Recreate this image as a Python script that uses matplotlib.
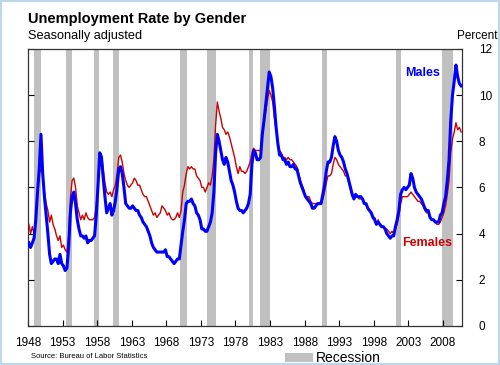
import numpy as np
import matplotlib
matplotlib.use("Agg")
import matplotlib.pyplot as plt
from matplotlib.patches import Rectangle

plt.rcParams['font.family'] = ['Liberation Sans', 'DejaVu Sans']

# Quarterly unemployment rates (percent), starting 1948 Q1
males = [
    3.6, 3.4, 3.6, 3.8,   # 1948
    4.6, 5.8, 6.8, 8.3,   # 1949
    6.6, 5.6, 4.8, 4.0,   # 1950
    3.1, 2.7, 2.8, 2.9,   # 1951
    2.9, 2.7, 3.1, 2.7,   # 1952
    2.6, 2.4, 2.5, 3.4,   # 1953
    4.9, 5.6, 5.8, 5.3,   # 1954
    4.6, 4.2, 3.9, 3.9,   # 1955
    3.8, 3.9, 3.6, 3.7,   # 1956
    3.7, 3.8, 3.9, 4.8,   # 1957
    6.1, 7.5, 7.3, 6.4,   # 1958
    5.6, 4.9, 5.1, 5.3,   # 1959
    4.8, 5.0, 5.4, 6.0,   # 1960
    6.8, 6.9, 6.6, 6.0,   # 1961
    5.3, 5.2, 5.1, 5.1,   # 1962
    5.2, 5.1, 5.0, 5.0,   # 1963
    4.8, 4.7, 4.5, 4.4,   # 1964
    4.3, 4.1, 3.9, 3.6,   # 1965
    3.4, 3.3, 3.2, 3.2,   # 1966
    3.2, 3.2, 3.2, 3.3,   # 1967
    3.0, 3.0, 2.9, 2.8,   # 1968
    2.7, 2.8, 2.9, 2.9,   # 1969
    3.5, 4.1, 4.6, 5.3,   # 1970
    5.4, 5.4, 5.5, 5.3,   # 1971
    5.2, 4.9, 4.8, 4.6,   # 1972
    4.2, 4.2, 4.1, 4.1,   # 1973
    4.3, 4.5, 4.9, 5.8,   # 1974
    7.5, 8.3, 8.0, 7.6,   # 1975
    7.2, 7.0, 7.3, 7.1,   # 1976
    6.7, 6.3, 6.1, 5.8,   # 1977
    5.4, 5.1, 5.0, 5.0,   # 1978
    4.9, 5.0, 5.1, 5.3,   # 1979
    5.7, 7.0, 7.6, 7.5,   # 1980
    7.2, 7.2, 7.3, 8.3,   # 1981
    8.9, 9.6, 10.3, 11.0, # 1982
    10.8, 10.3, 9.5, 8.6, # 1983
    7.9, 7.4, 7.4, 7.2,   # 1984
    7.2, 7.0, 7.1, 6.9,   # 1985
    6.9, 7.0, 6.8, 6.8,   # 1986
    6.5, 6.2, 6.0, 5.8,   # 1987
    5.6, 5.5, 5.4, 5.3,   # 1988
    5.1, 5.1, 5.2, 5.3,   # 1989
    5.3, 5.3, 5.7, 6.1,   # 1990
    6.7, 7.1, 7.1, 7.3,   # 1991
    7.8, 8.2, 8.0, 7.6,   # 1992
    7.4, 7.3, 7.1, 6.8,   # 1993
    6.6, 6.3, 6.0, 5.7,   # 1994
    5.5, 5.7, 5.6, 5.6,   # 1995
    5.6, 5.5, 5.3, 5.3,   # 1996
    5.1, 5.0, 4.9, 4.7,   # 1997
    4.6, 4.4, 4.5, 4.4,   # 1998
    4.3, 4.3, 4.2, 4.0,   # 1999
    3.9, 3.8, 3.9, 3.9,   # 2000
    4.3, 4.6, 5.0, 5.7,   # 2001
    5.9, 6.0, 5.9, 6.0,   # 2002
    6.1, 6.6, 6.4, 6.0,   # 2003
    5.8, 5.7, 5.6, 5.5,   # 2004
    5.3, 5.1, 5.0, 5.0,   # 2005
    4.7, 4.6, 4.6, 4.5,   # 2006
    4.5, 4.5, 4.8, 4.9,   # 2007
    5.3, 5.6, 6.3, 7.2,   # 2008
    8.9, 10.0, 10.6, 11.3,# 2009
    10.8, 10.5, 10.4,     # 2010
]

females = [
    4.4, 4.0, 4.3, 4.0,   # 1948
    4.6, 5.8, 6.6, 6.8,   # 1949
    6.6, 5.8, 5.3, 5.0,   # 1950
    4.5, 4.8, 4.4, 4.2,   # 1951
    3.9, 3.7, 3.9, 3.4,   # 1952
    3.5, 3.3, 3.2, 3.9,   # 1953
    5.5, 6.3, 6.4, 6.0,   # 1954
    5.2, 4.9, 4.6, 4.8,   # 1955
    4.6, 4.9, 4.7, 4.6,   # 1956
    4.6, 4.6, 4.7, 5.2,   # 1957
    6.2, 7.5, 7.4, 6.8,   # 1958
    6.2, 5.8, 5.7, 5.8,   # 1959
    5.6, 5.9, 6.1, 6.6,   # 1960
    7.3, 7.4, 7.1, 6.6,   # 1961
    6.3, 6.1, 6.0, 6.1,   # 1962
    6.2, 6.4, 6.3, 6.1,   # 1963
    6.1, 5.9, 5.7, 5.6,   # 1964
    5.6, 5.4, 5.2, 5.0,   # 1965
    4.8, 4.9, 4.7, 4.8,   # 1966
    4.9, 5.2, 5.1, 5.0,   # 1967
    4.8, 4.9, 4.7, 4.6,   # 1968
    4.6, 4.7, 4.9, 4.7,   # 1969
    5.0, 5.8, 6.1, 6.6,   # 1970
    6.9, 6.8, 6.9, 6.8,   # 1971
    6.8, 6.5, 6.4, 6.3,   # 1972
    6.0, 6.0, 5.8, 6.0,   # 1973
    6.2, 6.1, 6.5, 7.2,   # 1974
    8.7, 9.7, 9.3, 9.0,   # 1975
    8.6, 8.5, 8.3, 8.4,   # 1976
    8.2, 7.9, 7.6, 7.3,   # 1977
    6.9, 6.6, 6.9, 6.7,   # 1978
    6.7, 6.6, 6.7, 6.9,   # 1979
    7.1, 7.5, 7.7, 7.6,   # 1980
    7.6, 7.6, 7.6, 8.3,   # 1981
    8.9, 9.3, 9.8, 10.2,  # 1982
    10.0, 9.7, 9.0, 8.5,  # 1983
    7.9, 7.6, 7.5, 7.3,   # 1984
    7.3, 7.2, 7.3, 7.2,   # 1985
    7.2, 7.1, 7.0, 6.9,   # 1986
    6.6, 6.3, 6.1, 5.9,   # 1987
    5.6, 5.6, 5.6, 5.4,   # 1988
    5.3, 5.3, 5.3, 5.3,   # 1989
    5.3, 5.3, 5.5, 5.8,   # 1990
    6.2, 6.5, 6.5, 6.6,   # 1991
    7.0, 7.3, 7.2, 7.0,   # 1992
    6.9, 6.8, 6.7, 6.5,   # 1993
    6.5, 6.2, 5.9, 5.6,   # 1994
    5.6, 5.7, 5.6, 5.5,   # 1995
    5.5, 5.5, 5.3, 5.3,   # 1996
    5.1, 5.0, 4.9, 4.7,   # 1997
    4.7, 4.4, 4.6, 4.4,   # 1998
    4.3, 4.3, 4.2, 4.2,   # 1999
    4.1, 4.0, 4.1, 4.0,   # 2000
    4.2, 4.4, 4.8, 5.3,   # 2001
    5.6, 5.6, 5.6, 5.6,   # 2002
    5.7, 5.8, 5.7, 5.6,   # 2003
    5.5, 5.4, 5.4, 5.3,   # 2004
    5.2, 5.0, 4.9, 4.9,   # 2005
    4.7, 4.6, 4.6, 4.5,   # 2006
    4.4, 4.4, 4.5, 4.7,   # 2007
    4.9, 5.2, 5.7, 6.3,   # 2008
    7.5, 8.1, 8.4, 8.8,   # 2009
    8.5, 8.6, 8.4,        # 2010
]

start_year = 1948
# NBER recessions (decimal years): start, end
recessions = [
    (1948.83, 1949.85), (1953.50, 1954.42), (1957.58, 1958.33),
    (1960.25, 1961.13), (1969.92, 1970.92), (1973.83, 1975.25),
    (1980.00, 1980.58), (1981.50, 1982.92), (1990.50, 1991.25),
    (2001.17, 2001.92), (2007.92, 2009.50),
]
xtick_years = list(range(1948, 2009, 5))
yticks = [0, 2, 4, 6, 8, 10, 12]

t = start_year + np.arange(len(males)) / 4 + 0.125

fig = plt.figure(figsize=(5.0, 3.65), dpi=100)
ax = fig.add_axes([0.056, 0.107, 0.868, 0.759])

rec_color = '#C0C0C0'
for s, e in recessions:
    ax.axvspan(s, e, color=rec_color, lw=0, zorder=1)

ax.plot(t, females, color='#CC0000', lw=1.0, zorder=3)
ax.plot(t, males, color='#0000FF', lw=2.2, zorder=4)

ax.set_xlim(1948, 2010.75)
ax.set_ylim(0, 12)
ax.set_xticks(xtick_years)
ax.set_xticklabels([str(y) for y in xtick_years])
ax.set_yticks(yticks)
ax.set_yticklabels([str(v) for v in yticks])
ax.yaxis.tick_right()
ax.tick_params(axis='y', which='both', direction='in', left=True, right=True,
               labelleft=False, labelright=True, length=4, pad=12, labelsize=8.5)
ax.tick_params(axis='x', direction='in', length=4, pad=8, labelsize=8.5)
for sp in ax.spines.values():
    sp.set_color('#333333')
    sp.set_linewidth(0.9)

ax.text(2005.0, 10.95, 'Males', color='#0000FF', fontsize=9, fontweight='bold',
        ha='center', va='center')
ax.text(2005.7, 3.6, 'Females', color='#CC0000', fontsize=9, fontweight='bold',
        ha='center', va='center')

fig.text(0.056, 0.936, 'Unemployment Rate by Gender', fontsize=10.5,
         fontweight='bold', ha='left', va='baseline')
fig.text(0.056, 0.894, 'Seasonally adjusted', fontsize=9.2, ha='left',
         va='baseline')
fig.text(0.995, 0.894, 'Percent', fontsize=8.5, ha='right', va='baseline')
fig.text(0.062, 0.02, 'Source: Bureau of Labor Statistics', fontsize=5.5,
         ha='left', va='baseline')

fig.patches.append(Rectangle((0.57, 0.007), 0.056, 0.027, transform=fig.transFigure,
                             facecolor=rec_color, edgecolor='none'))
fig.text(0.632, 0.009, 'Recession', fontsize=10, ha='left', va='baseline')

fig.patches.append(Rectangle((0.001, 0.002), 0.997, 0.995, transform=fig.transFigure,
                             facecolor='none', edgecolor='#BDD7EE', lw=1.5))

fig.savefig('out.png', dpi=100)
